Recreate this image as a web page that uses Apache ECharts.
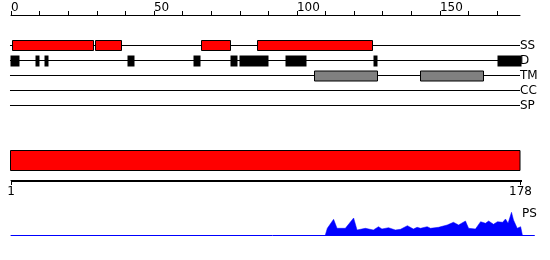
<!DOCTYPE html>
<html><head><meta charset="utf-8">
<script src="https://cdn.jsdelivr.net/npm/echarts@6/dist/echarts.min.js"></script>
<style>html,body{margin:0;padding:0;background:#fff}#c{width:550px;height:260px}</style>
</head><body><div id="c"></div>
<script>
const tracks = ['SS','D','TM','CC','SP'];
const topTicks = [0,10,20,30,40,50,60,70,80,90,100,110,120,130,140,150,160,170];
const topLabels = [0,50,100,150];
const seqStart = 1, seqEnd = 178;
const ssSegs = [[0.5,28.9],[29.5,38.7],[66.6,76.8],[85.9,126.2]];
const dSegs = [[-0.35,2.8],[8.4,9.8],[11.4,12.95],[40.6,43.05],[63.7,66.15],[76.65,79.1],[79.8,89.95],[95.9,103.15],[126.7,128],[170.1,178.4]];
const tmSegs = [[105.8,128],[142.9,165.1]];
const psX = [109.9,110.6,112.8,114,116.9,117.5,119.8,121,123.9,126.7,128.5,129.7,132,134.4,136.2,138.6,140.7,142,143.2,145.5,146.7,149.5,152.5,154.7,156.5,158.9,160,162.4,164.2,165.9,167,168.7,170.1,171.9,172.9,173.8,175,175.7,177,178.2,178.8];
const psY = [0,6.7,15.7,6.7,6.7,5,17,5,6.7,5,8.3,6,7.3,5,5.7,9.3,6,7.7,6.7,8.3,6.7,7.7,10,12.7,10,14,6.7,6,13.3,11.7,14,10.7,13.3,12.7,16,11.7,22.7,15,6.7,8.3,0];

const FONT = 'DejaVu Sans';
const feats = [];
ssSegs.forEach(s => feats.push([s[0], s[1], 0]));
dSegs.forEach(s => feats.push([s[0], s[1], 1]));
tmSegs.forEach(s => feats.push([s[0], s[1], 2]));
const styleByTrack = {
  0: {h:10, dy:0, fill:'#ff0000', stroke:'#000', lw:1},
  1: {h:11, dy:0.5, fill:'#000000', stroke:null, lw:0},
  2: {h:10, dy:0.5, fill:'#808080', stroke:'#000', lw:1}
};

const chart = echarts.init(document.getElementById('c'), null, {renderer:'canvas'});
chart.setOption({
  animation:false,
  title:{text:'PS', left:517, top:203, textStyle:{fontFamily:FONT, fontSize:12, fontWeight:'normal', color:'#000'}},
  grid:[
    {left:11, right:30, top:38, height:75},
    {left:11, right:29.5, top:150, height:30},
    {left:11, right:550-11-183*2.86, top:210, height:25}
  ],
  xAxis:[
    {gridIndex:0, type:'value', min:0, max:seqEnd, position:'top', offset:23,
     axisLine:{show:true, onZero:false, lineStyle:{color:'#000', width:1}},
     axisTick:{show:true, length:4, customValues:topTicks, lineStyle:{color:'#000'}},
     axisLabel:{show:true, customValues:topLabels, align:'left', margin:1, color:'#000', fontFamily:FONT, fontSize:12},
     splitLine:{show:false}},
    {gridIndex:1, type:'value', min:seqStart, max:seqEnd, position:'bottom',
     axisLine:{show:true, onZero:false, lineStyle:{color:'#000', width:1}},
     axisTick:{show:true, length:5, customValues:[seqStart,seqEnd], lineStyle:{color:'#000'}},
     axisLabel:{show:true, customValues:[seqStart,seqEnd], margin:6, color:'#000', fontFamily:FONT, fontSize:12},
     splitLine:{show:false}},
    {gridIndex:2, type:'value', min:0, max:183,
     axisLine:{show:true, onZero:false, lineStyle:{color:'#0000ff', width:1}},
     axisTick:{show:false}, axisLabel:{show:false}, splitLine:{show:false}}
  ],
  yAxis:[
    {gridIndex:0, type:'category', data:tracks, inverse:true, position:'right',
     axisLine:{show:false}, axisTick:{show:false},
     axisLabel:{interval:0, margin:0, color:'#000', fontFamily:FONT, fontSize:12}},
    {gridIndex:1, type:'value', min:0, max:3, show:false},
    {gridIndex:2, type:'value', min:0, max:25, show:false}
  ],
  series:[
    {type:'custom', xAxisIndex:0, yAxisIndex:0, data:tracks.map((t,i)=>[i]),
     renderItem:function(params, api){
       const i = api.value(0);
       const p0 = api.coord([-0.35, i]);
       const p1 = api.coord([seqEnd, i]);
       return {type:'line', shape:{x1:p0[0], y1:p0[1], x2:p1[0], y2:p1[1]}, style:{stroke:'#000', lineWidth:1}};
     }},
    {type:'custom', xAxisIndex:0, yAxisIndex:0, data:feats, z:3,
     renderItem:function(params, api){
       const s = api.value(0), e = api.value(1), t = api.value(2);
       const st = styleByTrack[t];
       const a = api.coord([s, t]), b = api.coord([e, t]);
       const y = a[1] - st.h/2 + st.dy;
       return {type:'rect', shape:{x:Math.round(a[0])+0.5, y:y, width:Math.round(b[0]-a[0]), height:st.h},
               style:{fill:st.fill, stroke:st.stroke, lineWidth:st.lw}};
     }},
    {type:'custom', xAxisIndex:1, yAxisIndex:1, data:[[seqStart, seqEnd]], z:10, clip:false,
     renderItem:function(params, api){
       const a = api.coord([api.value(0), 3]), b = api.coord([api.value(1), 1]);
       const c = api.coord([api.value(1), 0]);
       return {type:'group', children:[
         {type:'rect', shape:{x:a[0]-0.5, y:Math.floor(a[1])+0.5, width:b[0]-a[0], height:Math.round(b[1]-a[1])},
          style:{fill:'#ff0000', stroke:'#000', lineWidth:1}},
         {type:'rect', z2:20, shape:{x:Math.floor(a[0]), y:Math.round(c[1]), width:Math.round(c[0]-a[0])+1, height:2},
          style:{fill:'#000000'}}
       ]};
     }},
    {type:'line', xAxisIndex:2, yAxisIndex:2, data:psX.map((x,i)=>[x, psY[i]]),
     showSymbol:false, symbol:'none', smooth:false,
     lineStyle:{color:'#0000ff', width:0.5}, areaStyle:{color:'#0000ff', opacity:1}}
  ]
});
</script></body></html>
